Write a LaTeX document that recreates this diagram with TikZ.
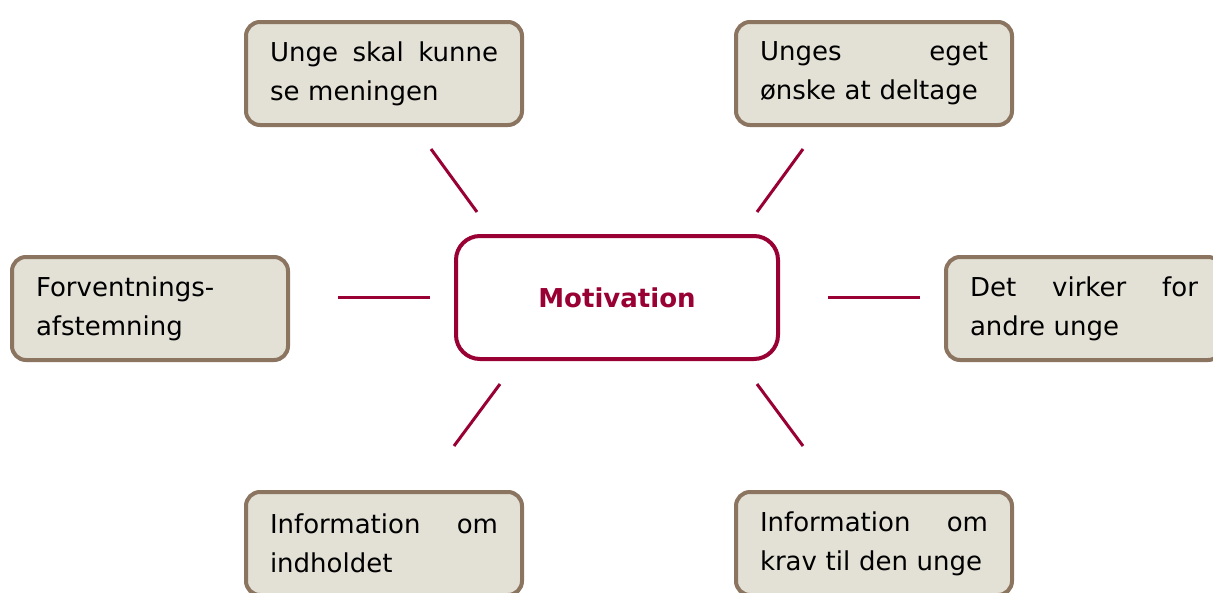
\documentclass[tikz,border=0pt]{standalone}
\usepackage{fontspec}
\setmainfont{DejaVu Sans}
\definecolor{boxfill}{RGB}{227,224,213}
\definecolor{boxedge}{RGB}{139,117,96}
\definecolor{crimson}{RGB}{153,0,51}
\begin{document}
\begin{tikzpicture}[x=1pt,y=-1pt,
  idea/.style={draw=boxedge, fill=boxfill, line width=4pt, rounded corners=14pt,
    minimum width=276pt, minimum height=103pt, inner sep=0pt,
    text width=228pt, align=left, font=\fontsize{26}{39}\selectfont},
  hub/.style={draw=crimson, fill=white, line width=4pt, rounded corners=24pt,
    minimum width=322pt, minimum height=123pt, inner sep=0pt,
    text=crimson, font=\fontsize{26}{39}\selectfont\bfseries},
  spoke/.style={draw=crimson, line width=3pt}]
\useasboundingbox (0,0) rectangle (1213,592);
\clip (0,0) rectangle (1213,592);
\fill[white] (0,0) rectangle (1213,592);

% central concept
\node[hub] (mot) at (617,297.5) {Motivation};

% surrounding factors
\node[idea] (tl) at (384,73.5) {Unge\hfill skal\hfill kunne\\se meningen};
\node[idea] (tr) at (874,73.5) {Unges\hfill eget\\ønske at deltage};
\node[idea] (le) at (150,308.5) {Forventnings-\\afstemning};
\node[idea] (ri) at (1084,308.5) {Det\hfill virker\hfill for\\andre unge};
\node[idea] (bl) at (384,543.5) {Information\hfill om\\indholdet};
\node[idea] (br) at (874,543.5) {Information\hfill om\\krav til den unge};

% free-standing spokes between hub and factors
\coordinate (tlA) at (431,149);  \coordinate (tlB) at (477,212);
\coordinate (trA) at (803,149);  \coordinate (trB) at (757,212);
\coordinate (leA) at (338,297);  \coordinate (leB) at (430,297);
\coordinate (riA) at (828,297);  \coordinate (riB) at (920,297);
\coordinate (blA) at (500,384);  \coordinate (blB) at (454,446);
\coordinate (brA) at (757,384);  \coordinate (brB) at (803,446);

\draw[spoke] (tlA) -- (tlB);
\draw[spoke] (trA) -- (trB);
\draw[spoke] (leA) -- (leB);
\draw[spoke] (riA) -- (riB);
\draw[spoke] (blA) -- (blB);
\draw[spoke] (brA) -- (brB);
\end{tikzpicture}
\end{document}
